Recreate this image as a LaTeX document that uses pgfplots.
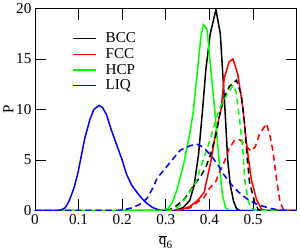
\documentclass[border=0pt]{standalone}
\usepackage{pgfplots}
\pgfplotsset{compat=1.18}
\usepackage{fontspec}
\setmainfont{Liberation Serif}
\begin{document}
\begin{tikzpicture}
\begin{axis}[
  scale only axis,
  width=259pt, height=200pt,
  xmin=0, xmax=0.6, ymin=0, ymax=20,
  xtick={0,0.1,0.2,0.3,0.4,0.5,0.6},
  xticklabels={0,0.1,0.2,0.3,0.4,0.5,},
  ytick={0,5,10,15,20},
  tick align=inside,
  major tick length=11pt,
  minor tick num=0,
  tick style={line width=0.8pt, black},
  axis line style={line width=0.8pt},
  /pgf/number format/assume math mode=true,
  tick label style={font=\fontsize{15}{17}\selectfont},
  label style={font=\fontsize{15}{17}\selectfont},
  xlabel={$\overline{\mbox{q}}_{\mbox{\fontsize{11}{12}\selectfont 6}}$},
  ylabel={P},
  xlabel style={at={(axis description cs:0.5,0)}, anchor=north, yshift=-21pt},
  ylabel style={yshift=-4pt},
  legend style={draw=none, fill=none, at={(rel axis cs:0.14,0.885)}, anchor=north west,
    font=\fontsize{15}{17}\selectfont, row sep=2pt, inner sep=0pt,
    nodes={inner sep=1pt},
    /tikz/every odd column/.append style={column sep=8pt}},
  legend cell align=left,
  legend image post style={xscale=1.35, line width=1.5pt},
  dashstyle/.style={dash pattern=on 6pt off 4pt},
]
% BCC solid
\addplot[black, line width=1.5pt] coordinates {(0,0) (0.32,0) (0.34,0.3) (0.355,1) (0.365,2.5) (0.375,5.5) (0.384,9.8) (0.392,14) (0.402,17.5) (0.415,19.9) (0.425,17.5) (0.43,14) (0.436,9.8) (0.442,5) (0.448,2.5) (0.455,1) (0.462,0.2) (0.47,0) (0.6,0)};
\addlegendentry{BCC}
% FCC solid
\addplot[red, line width=1.5pt] coordinates {(0,0) (0.32,0) (0.34,0.15) (0.355,0.4) (0.373,1.0) (0.388,1.8) (0.403,4.8) (0.415,7.8) (0.427,10.1) (0.434,13.1) (0.445,14.7) (0.454,15.0) (0.465,13.5) (0.477,10.1) (0.484,7.1) (0.49,5) (0.496,3.1) (0.508,1.1) (0.52,0.1) (0.53,0) (0.6,0)};
\addlegendentry{FCC}
% HCP solid
\addplot[green, line width=1.5pt] coordinates {(0,0) (0.29,0) (0.305,0.2) (0.315,0.8) (0.326,2.1) (0.342,4.8) (0.357,8.1) (0.363,9.8) (0.373,14) (0.38,17) (0.386,18.4) (0.392,18.1) (0.395,17.8) (0.405,13.2) (0.415,8.6) (0.422,5) (0.43,1.5) (0.437,0.3) (0.445,0) (0.6,0)};
\addlegendentry{HCP}
% LIQ solid
\addplot[blue, line width=1.5pt] coordinates {(0,0) (0.05,0) (0.06,0.05) (0.07,0.3) (0.079,1.0) (0.09,2.3) (0.099,3.8) (0.114,7.1) (0.126,9) (0.135,10.0) (0.147,10.4) (0.155,10.2) (0.164,9.5) (0.175,8.0) (0.1875,6.5) (0.2,5.0) (0.21,3.6) (0.222,2.5) (0.234,1.8) (0.245,1.2) (0.257,0.7) (0.27,0.3) (0.28,0.13) (0.29,0) (0.6,0)};
\addlegendentry{LIQ}
% BCC dashed
\addplot[black, line width=1.5pt, dashstyle, forget plot] coordinates {(0,0) (0.3,0) (0.31,0.1) (0.325,0.5) (0.342,1.1) (0.361,2.3) (0.38,3.4) (0.392,4.3) (0.403,5.6) (0.415,7.5) (0.425,9.8) (0.435,11.3) (0.446,12.3) (0.462,12.9) (0.473,11.5) (0.481,8.5) (0.486,5.5) (0.492,2.8) (0.504,0.8) (0.512,0.1) (0.52,0) (0.6,0)};
% FCC dashed
\addplot[red, line width=1.5pt, dashstyle, forget plot] coordinates {(0,0) (0.32,0) (0.34,0.1) (0.357,0.3) (0.375,0.9) (0.388,1.3) (0.4,2.2) (0.415,2.9) (0.425,4) (0.434,4.8) (0.445,6.1) (0.458,7.0) (0.47,7.0) (0.48,6.6) (0.495,5.9) (0.505,6.3) (0.515,7.6) (0.531,8.6) (0.54,7.2) (0.546,5.8) (0.554,3.1) (0.562,0.8) (0.57,0.1) (0.58,0) (0.6,0)};
% HCP dashed
\addplot[green, line width=1.5pt, dashstyle, forget plot] coordinates {(0,0) (0.3,0) (0.319,0.1) (0.335,0.6) (0.35,1.5) (0.369,2.8) (0.384,4.8) (0.392,5.8) (0.4,6.8) (0.411,8.4) (0.423,10.1) (0.438,11.3) (0.454,12.4) (0.461,11.8) (0.469,9.1) (0.473,7.5) (0.477,5.8) (0.481,3.1) (0.488,1.1) (0.495,0.3) (0.505,0) (0.6,0)};
% LIQ dashed
\addplot[blue, line width=1.5pt, dashstyle, forget plot] coordinates {(0,0) (0.19,0) (0.2,0.05) (0.22,0.25) (0.24,0.6) (0.257,1.2) (0.27,2.2) (0.28,3.2) (0.303,4.4) (0.32,5.3) (0.334,6.0) (0.355,6.4) (0.37,6.6) (0.385,6.3) (0.403,5.5) (0.42,4.5) (0.434,3.5) (0.45,2.6) (0.465,1.9) (0.485,1.2) (0.504,0.7) (0.525,0.4) (0.542,0.2) (0.56,0.05) (0.58,0) (0.6,0)};
\end{axis}
\end{tikzpicture}
\end{document}
